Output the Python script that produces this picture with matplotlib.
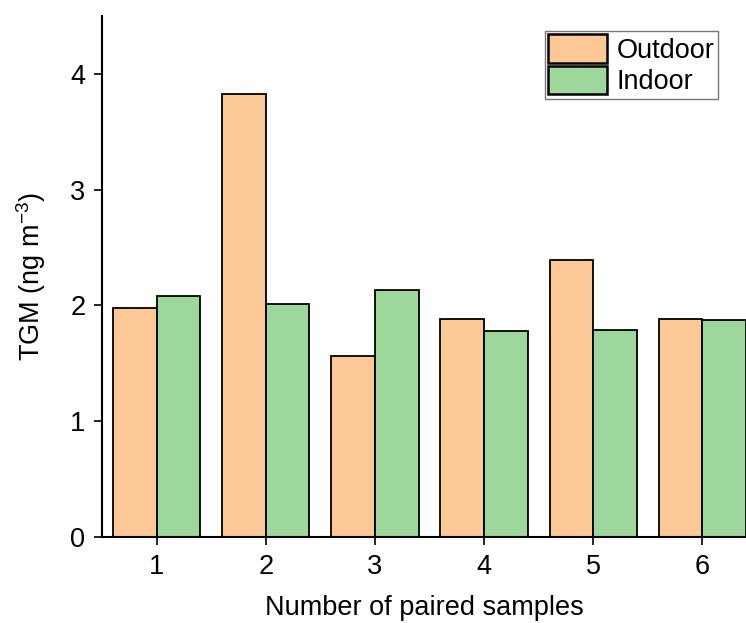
import matplotlib
matplotlib.use("Agg")
import matplotlib.pyplot as plt
import numpy as np

plt.rcParams['font.family'] = ['Liberation Sans', 'DejaVu Sans']
plt.rcParams['mathtext.fontset'] = 'custom'
plt.rcParams['mathtext.rm'] = 'Liberation Sans'
plt.rcParams['mathtext.it'] = 'Liberation Sans:italic'

samples = [1, 2, 3, 4, 5, 6]
outdoor = [1.98, 3.83, 1.56, 1.88, 2.39, 1.88]
indoor = [2.08, 2.01, 2.13, 1.78, 1.79, 1.87]
series_labels = ["Outdoor", "Indoor"]

W, H = 746, 623
fig = plt.figure(figsize=(W/100, H/100), dpi=100)
ax = fig.add_axes([102/W, 1-537/H, 1-102/W, (537-16)/H])

x = np.array(samples, dtype=float)
bw = 0.4
ax.bar(x - bw/2, outdoor, width=bw, color='#FBC896', edgecolor='black', linewidth=1.3, label=series_labels[0])
ax.bar(x + bw/2, indoor, width=bw, color='#9ED79C', edgecolor='black', linewidth=1.3, label=series_labels[1])

ax.set_xlim(0.5, 6.4)
ax.set_ylim(0, 4.5)
ax.set_xticks(samples)
ax.set_yticks([0, 1, 2, 3, 4])
ax.tick_params(axis='both', direction='out', length=6, width=1.2, labelsize=19.5, pad=6)
for s in ['top', 'right']:
    ax.spines[s].set_visible(False)
for s in ['left', 'bottom']:
    ax.spines[s].set_linewidth(1.5)

ax.set_xlabel("Number of paired samples", fontsize=19.5, labelpad=11)
ax.set_ylabel("TGM (ng m$^{\\mathregular{-3}}$)", fontsize=19.5, labelpad=16)

leg = ax.legend(loc='upper right', bbox_to_anchor=(718/W, 1-31/H), bbox_transform=fig.transFigure,
                fontsize=19.5, frameon=True, fancybox=False, edgecolor='#555555',
                handlelength=2.2, handleheight=1.25, labelspacing=0.08, borderpad=0.12,
                handletextpad=0.35, borderaxespad=0)
leg.get_frame().set_linewidth(1.0)
for p in leg.get_patches():
    p.set_linewidth(1.8)

fig.savefig("out.png", dpi=100)
